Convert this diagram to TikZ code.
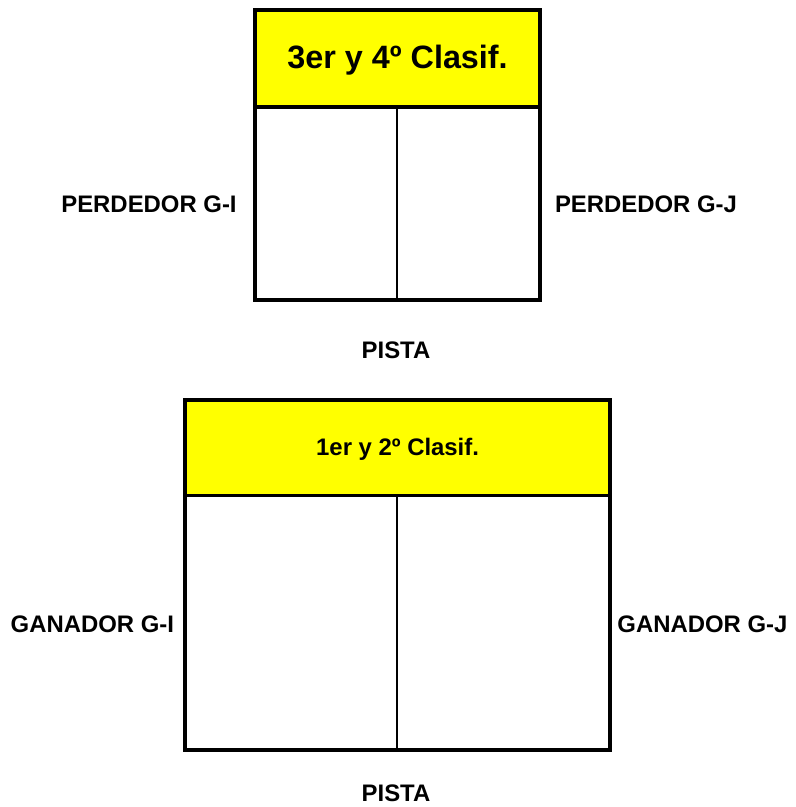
\documentclass[tikz,border=0pt]{standalone}
\usepackage{fontspec}
\setmainfont{Liberation Sans}
\usetikzlibrary{calc}
\definecolor{headyellow}{RGB}{255,255,0}
\tikzset{
	frame/.style={line width=2.8pt},
	split/.style={line width=1.4pt},
	lbl/.style={anchor=base, inner sep=0pt, font=\fontsize{17}{20}\selectfont\bfseries},
}

\begin{document}
\begin{tikzpicture}
			\useasboundingbox (0, 0) rectangle (19.9, 20.175);
			%%%%% TOP COURT %%%%%
			\fill[headyellow] (6.375, 19.925) rectangle (13.5, 17.5);
			\draw[frame] (6.375, 19.925) rectangle (13.5, 12.675);
			\draw[frame] (6.375, 17.5) -- (13.5, 17.5);
			\draw[split] (9.925, 17.5) -- (9.925, 12.675);
			
			\node[lbl, font=\fontsize{23}{26}\selectfont\bfseries] (headtop) at (9.94, 18.45) {3er y 4º Clasif.};
			\node[lbl] (lostI) at (3.725, 14.85) {PERDEDOR G-I};
			\node[lbl] (lostJ) at (16.15, 14.85) {PERDEDOR G-J};
			\node[lbl] (pistatop) at (9.9, 11.2) {PISTA};
			
			%%%%% BOTTOM COURT %%%%%
			\fill[headyellow] (4.625, 10.175) rectangle (15.25, 7.7875);
			\draw[frame] (4.625, 10.175) rectangle (15.25, 1.425);
			\draw[frame] (4.625, 7.7875) -- (15.25, 7.7875);
			\draw[split] (9.925, 7.7875) -- (9.925, 1.425);
			
			\node[lbl] (headbot) at (9.94, 8.775) {1er y 2º Clasif.};
			\node[lbl] (winI) at (2.31, 4.35) {GANADOR G-I};
			\node[lbl] (winJ) at (17.56, 4.35) {GANADOR G-J};
			\node[lbl] (pistabot) at (9.9, 0.1375) {PISTA};
\end{tikzpicture}
\end{document}
